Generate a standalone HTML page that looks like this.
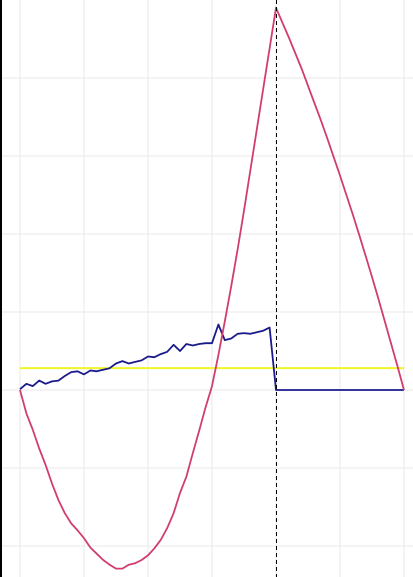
<!DOCTYPE html>
<html><head><meta charset="utf-8"><style>
html,body{margin:0;padding:0;background:#fff;}
svg{display:block;}
</style></head><body>
<svg id="chart" width="413" height="577" xmlns="http://www.w3.org/2000/svg">
<g id="grid"></g>
<line x1="1" y1="0" x2="1" y2="577" stroke="#000" stroke-width="2"/>
<g id="marks"></g>
</svg>
<script>
const gridXTicks = [0, 10, 20, 30, 40, 50, 60];
const gridYTicks = [-2, -1, 0, 1, 2, 3, 4];
const blueValues = [0.01,0.08,0.05,0.12,0.08,0.11,0.12,0.18,0.23,0.24,0.20,0.25,0.24,0.26,0.28,0.34,0.37,0.34,0.36,0.38,0.43,0.42,0.46,0.49,0.58,0.50,0.59,0.57,0.59,0.60,0.60,0.84,0.64,0.66,0.72,0.73,0.72,0.74,0.76,0.80,0,0,0,0,0,0,0,0,0,0,0,0,0,0,0,0,0,0,0,0,0];
const pinkValues = [0,-0.30,-0.51,-0.75,-0.96,-1.20,-1.41,-1.58,-1.71,-1.80,-1.90,-2.02,-2.10,-2.18,-2.24,-2.29,-2.29,-2.24,-2.22,-2.18,-2.12,-2.03,-1.92,-1.77,-1.58,-1.32,-1.11,-0.81,-0.52,-0.22,0.05,0.45,0.88,1.33,1.80,2.30,2.82,3.34,3.86,4.38,4.90,4.71,4.52,4.32,4.12,3.90,3.68,3.46,3.23,2.99,2.75,2.50,2.25,1.99,1.72,1.45,1.17,0.88,0.59,0.30,0];
const thresholdValue = [0.28];
const markerIndex = [40];

const xScale = i => 20 + i * 6.4;
const yScale = v => 390 - v * 78;
const NS = "http://www.w3.org/2000/svg";
const grid = document.getElementById('grid');
const marks = document.getElementById('marks');

gridXTicks.forEach(t => {
  const l = document.createElementNS(NS, 'line');
  
  
  l.setAttribute('x1', xScale(t)); l.setAttribute('x2', xScale(t));
  l.setAttribute('y1', 0); l.setAttribute('y2', 577);
  l.setAttribute('stroke', '#e8e8e8'); l.setAttribute('stroke-width', 1);
  grid.appendChild(l);
});
gridYTicks.forEach(t => {
  const l = document.createElementNS(NS, 'line');
  
  
  l.setAttribute('x1', 0); l.setAttribute('x2', 413);
  l.setAttribute('y1', yScale(t)); l.setAttribute('y2', yScale(t));
  l.setAttribute('stroke', '#e8e8e8'); l.setAttribute('stroke-width', 1);
  grid.appendChild(l);
});

const th = document.createElementNS(NS, 'line');


th.setAttribute('x1', xScale(0)); th.setAttribute('x2', xScale(60));
th.setAttribute('y1', yScale(thresholdValue[0])); th.setAttribute('y2', yScale(thresholdValue[0]));
th.setAttribute('stroke', '#f0f52a'); th.setAttribute('stroke-width', 2);
marks.appendChild(th);

function path(vals, color, name) {
  const p = document.createElementNS(NS, 'path');
  
  
  p.setAttribute('d', vals.map((v, i) => (i ? 'L' : 'M') + xScale(i).toFixed(1) + ',' + yScale(v).toFixed(1)).join(''));
  p.setAttribute('fill', 'none'); p.setAttribute('stroke', color);
  p.setAttribute('stroke-width', 1.8); p.setAttribute('stroke-linejoin', 'round');
  marks.appendChild(p);
}
path(blueValues, '#1a1a8c', 'blue-series-line');
path(pinkValues, '#d23c72', 'pink-series-line');

const mk = document.createElementNS(NS, 'line');


mk.setAttribute('x1', xScale(markerIndex[0]) + 0.5); mk.setAttribute('x2', xScale(markerIndex[0]) + 0.5);
mk.setAttribute('y1', 0); mk.setAttribute('y2', 577);
mk.setAttribute('stroke', '#000'); mk.setAttribute('stroke-width', 1);
mk.setAttribute('stroke-dasharray', '4,3');
marks.appendChild(mk);
</script>
</body></html>
